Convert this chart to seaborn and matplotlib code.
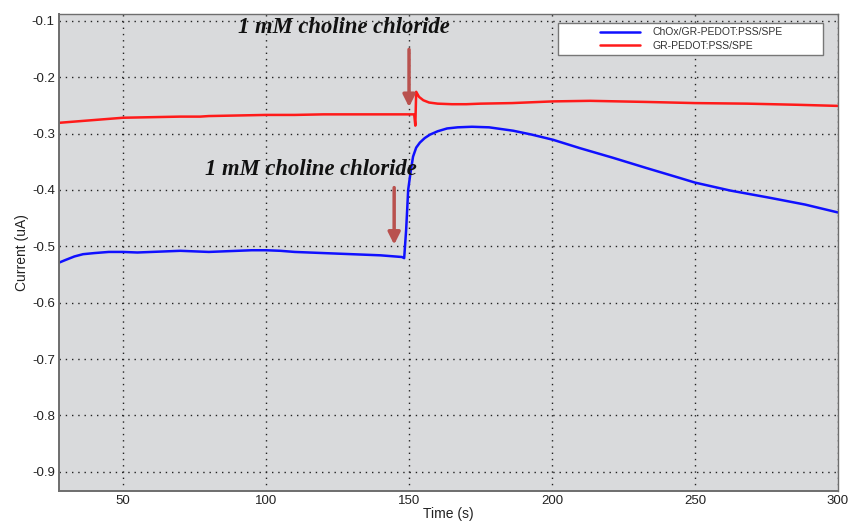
import matplotlib
matplotlib.use("Agg")
import matplotlib.pyplot as plt
from matplotlib.lines import Line2D
from matplotlib.legend_handler import HandlerLine2D
import seaborn as sns
import pandas as pd

# ChOx/GR-PEDOT:PSS/SPE amperometric response
blue_time = [27.6, 30, 33, 36, 40, 45, 50, 55, 60, 65, 70, 75, 80, 85, 90, 95, 100,
             105, 110, 115, 120, 125, 130, 135, 140, 145, 147.5, 148.3, 149.0, 149.7,
             150.5, 151.4, 152.5, 153.8, 155.5, 157.3, 160, 163.3, 167, 172, 178,
             186.4, 193, 200.3, 209.8, 221.3, 232.9, 244.8, 250, 262.2, 276.2, 288.5, 300]
blue_current = [-0.529, -0.524, -0.518, -0.514, -0.512, -0.510, -0.510, -0.511, -0.510,
                -0.509, -0.508, -0.509, -0.510, -0.509, -0.508, -0.507, -0.507, -0.508,
                -0.510, -0.511, -0.512, -0.513, -0.514, -0.515, -0.516, -0.518, -0.519,
                -0.521, -0.470, -0.400, -0.370, -0.341, -0.325, -0.316, -0.308, -0.302,
                -0.296, -0.291, -0.289, -0.288, -0.289, -0.295, -0.302, -0.311, -0.326,
                -0.343, -0.361, -0.379, -0.387, -0.401, -0.414, -0.426, -0.440]

# GR-PEDOT:PSS/SPE control response
red_time = [27.6, 35, 40, 50, 60, 70, 77, 80, 90, 100, 110, 120, 130, 140, 148, 151.8,
            152.2, 152.5, 153.5, 155, 157, 160, 165, 170, 175, 186, 200.3, 213.3, 233.2,
            250, 268.2, 285.7, 300]
red_current = [-0.281, -0.278, -0.276, -0.272, -0.271, -0.270, -0.270, -0.269, -0.268,
               -0.267, -0.267, -0.266, -0.266, -0.266, -0.266, -0.266, -0.286, -0.226,
               -0.235, -0.241, -0.245, -0.247, -0.248, -0.248, -0.247, -0.246, -0.243,
               -0.242, -0.244, -0.246, -0.247, -0.249, -0.251]

x_ticks = [50, 100, 150, 200, 250, 300]
y_ticks = [-0.9, -0.8, -0.7, -0.6, -0.5, -0.4, -0.3, -0.2, -0.1]
series_names = ["ChOx/GR-PEDOT:PSS/SPE", "GR-PEDOT:PSS/SPE"]
note_text = "1 mM choline chloride"

df = pd.concat([
    pd.DataFrame({"Time (s)": blue_time, "Current (uA)": blue_current, "Electrode": series_names[0]}),
    pd.DataFrame({"Time (s)": red_time, "Current (uA)": red_current, "Electrode": series_names[1]}),
])

sns.set_theme(style="whitegrid")
plt.rcParams["font.family"] = ["Liberation Sans", "DejaVu Sans"]
plt.rcParams["axes.unicode_minus"] = False

fig = plt.figure(figsize=(8.48, 5.23), dpi=100)
ax = fig.add_axes([59 / 848, 1 - 491 / 523, 779 / 848, 477 / 523])
ax.set_facecolor("#d9dadc")

sns.lineplot(data=df, x="Time (s)", y="Current (uA)", hue="Electrode",
             palette=["#1010ff", "#ff1a1a"], estimator=None, sort=False,
             linewidth=1.8, ax=ax, legend=False)

ax.set_xlim(27.6, 300)
ax.set_ylim(-0.934, -0.088)
ax.set_xticks(x_ticks)
ax.set_yticks(y_ticks)
ax.set_yticklabels([f"{v:.1f}" for v in y_ticks])

ax.grid(True, color="#222222", linestyle=(0, (1, 3.5)), linewidth=1.0)
for side, sp in ax.spines.items():
    sp.set_visible(True)
    sp.set_color("#6e6e6e")
    sp.set_linewidth(1.4 if side in ("left", "bottom") else 1.0)

ax.tick_params(axis="both", direction="in", length=4, width=0.8, color="#444444",
               labelsize=9.5, labelcolor="#222222", pad=3)
ax.set_xlabel("Time (s)", fontsize=10, color="#222222", labelpad=0)
ax.set_ylabel("Current (uA)", fontsize=10, color="#222222", labelpad=2)

handles = [Line2D([], [], color="#1010ff", lw=1.8), Line2D([], [], color="#ff1a1a", lw=1.8)]
leg = ax.legend(handles, series_names, loc="upper left",
                bbox_to_anchor=(0.6406, 0.914, 0.340, 0.067), mode="expand",
                borderaxespad=0, fontsize=7.5, handlelength=7.5, handletextpad=1.2,
                labelspacing=0.35, borderpad=0.4, fancybox=False, framealpha=1,
                handler_map={Line2D: HandlerLine2D(xpad=3.6)})
leg.get_frame().set_edgecolor("#777777")
leg.get_frame().set_linewidth(1.0)
for t in leg.get_texts():
    t.set_color("#333333")

arrow_color = "#b9514e"
ax.annotate("", xy=(150.0, -0.258), xytext=(150.0, -0.146),
            arrowprops=dict(arrowstyle="-|>", color=arrow_color, lw=2.5, mutation_scale=18))
ax.annotate("", xy=(144.8, -0.502), xytext=(144.8, -0.391),
            arrowprops=dict(arrowstyle="-|>", color=arrow_color, lw=2.5, mutation_scale=18))

note_font = dict(family=["Liberation Serif", "DejaVu Serif"], style="italic",
                 weight="bold", fontsize=16.3, color="#111111", ha="center", va="center")
ax.text(127.3, -0.112, note_text, **note_font)
ax.text(115.7, -0.364, note_text, **note_font)

fig.savefig("out.png", dpi=100)
